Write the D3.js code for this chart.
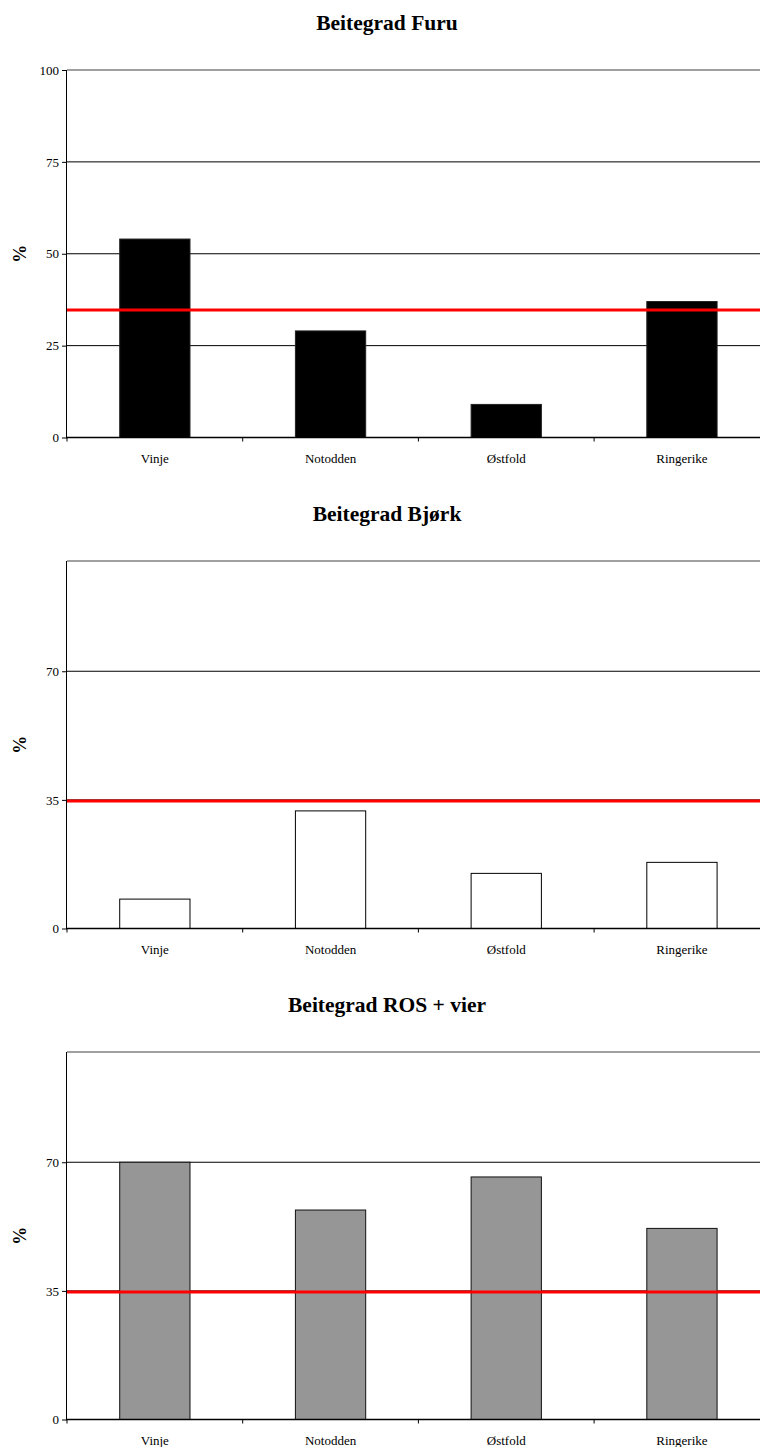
<!DOCTYPE html>
<html>
<head>
<meta charset="utf-8">
<script src="https://cdn.jsdelivr.net/npm/d3@7"></script>
<style>
  html, body { margin: 0; padding: 0; background: #fff; }
  svg { display: block; }
  text { font-family: "Liberation Serif", "Times New Roman", serif; fill: #000; }
</style>
</head>
<body>
<svg id="chart" width="760" height="1447"></svg>
<script>
// Sites along the x axis
const categories = ["Vinje", "Notodden", "Østfold", "Ringerike"];

// Grazing percentage per species group
const furuValues = [54, 29, 9, 37];
const bjorkValues = [8, 32, 15, 18];
const rosValues = [70, 57, 66, 52];

// Reference level drawn as a red line across each panel
const referenceLevel = 34.7;

// Panel titles and y tick values
const titles = ["Beitegrad Furu", "Beitegrad Bjørk", "Beitegrad ROS + vier"];
const furuTicks = [0, 25, 50, 75, 100];
const bjorkTicks = [0, 35, 70];
const rosTicks = [0, 35, 70];

const panels = [
  { title: titles[0], values: furuValues, ticks: furuTicks, fill: "#000000", stroke: "#222" },
  { title: titles[1], values: bjorkValues, ticks: bjorkTicks, fill: "#ffffff", stroke: "#000" },
  { title: titles[2], values: rosValues, ticks: rosTicks, fill: "#969696", stroke: "#111" }
];

const svg = d3.select("#chart");
const panelStep = 491;
const left = 67, plotTop = 70, plotH = 367.5, band = 175.7;
const right = left + band * categories.length;

panels.forEach((p, i) => {
  const g = svg.append("g").attr("transform", `translate(0,${i * panelStep})`);
  const bottom = plotTop + plotH;

  const x = d3.scaleBand().domain(categories).range([left, right]).paddingInner(0.6).paddingOuter(0.3);
  const xb = d3.scaleBand().domain(categories).range([left, right]);
  const y = d3.scaleLinear().domain([0, 100]).range([bottom, plotTop]);

  // title
  g.append("text")
    .attr("x", 387).attr("y", 30)
    .attr("text-anchor", "middle")
    .attr("font-size", 21.5).attr("font-weight", "bold")
    .text(p.title);

  // horizontal gridlines
  g.append("g").selectAll("line")
    .data(p.ticks.filter(t => t > 0 && t < 100))
    .join("line")
    .attr("x1", left).attr("x2", 760)
    .attr("y1", d => y(d)).attr("y2", d => y(d))
    .attr("stroke", "#000").attr("stroke-width", 1);

  // top border of the plot area
  g.append("line")
    .attr("x1", left).attr("x2", 760)
    .attr("y1", y(100)).attr("y2", y(100))
    .attr("stroke", "#808080").attr("stroke-width", 1.5);

  // bars
  g.append("g").selectAll("rect")
    .data(p.values)
    .join("rect")
    .attr("x", (d, j) => x(categories[j]))
    .attr("width", x.bandwidth())
    .attr("y", d => y(d))
    .attr("height", d => y(0) - y(d))
    .attr("fill", p.fill)
    .attr("stroke", p.stroke)
    .attr("stroke-width", 1);

  // y axis
  const yAxis = d3.axisLeft(y).tickValues(p.ticks).tickSize(5).tickPadding(3).tickFormat(d3.format("d"));
  const ya = g.append("g").attr("transform", `translate(${left},0)`).call(yAxis);
  ya.select(".domain").attr("stroke", "#000").attr("stroke-width", 1).attr("d", `M-0.5,${plotTop}V${bottom}`);
  ya.selectAll(".tick line").attr("stroke", "#000");
  ya.selectAll(".tick text")
    .attr("font-family", "Liberation Serif, Times New Roman, serif")
    .attr("font-size", 13).attr("fill", "#000");

  // x axis with ticks on category boundaries
  const xa = g.append("g").attr("transform", `translate(0,${bottom})`);
  xa.append("line")
    .attr("x1", left - 1).attr("x2", 760)
    .attr("y1", 0).attr("y2", 0)
    .attr("stroke", "#000").attr("stroke-width", 1.5);
  xa.selectAll("line.tk")
    .data(categories)
    .join("line").attr("class", "tk")
    .attr("x1", d => xb(d)).attr("x2", d => xb(d))
    .attr("y1", 0).attr("y2", 4)
    .attr("stroke", "#000");
  xa.selectAll("text")
    .data(categories)
    .join("text")
    .attr("x", d => xb(d) + xb.bandwidth() / 2)
    .attr("y", 25)
    .attr("text-anchor", "middle")
    .attr("font-size", 13)
    .text(d => d);

  // y axis title
  g.append("text")
    .attr("transform", `translate(20,${(plotTop + bottom) / 2}) rotate(-90)`)
    .attr("text-anchor", "middle")
    .attr("dominant-baseline", "central")
    .attr("font-size", 18).attr("font-weight", "bold")
    .text("%");

  // reference line
  g.append("line")
    .attr("x1", left).attr("x2", 760)
    .attr("y1", y(referenceLevel)).attr("y2", y(referenceLevel))
    .attr("stroke", "#ff0000").attr("stroke-width", 3);
});
</script>
</body>
</html>
